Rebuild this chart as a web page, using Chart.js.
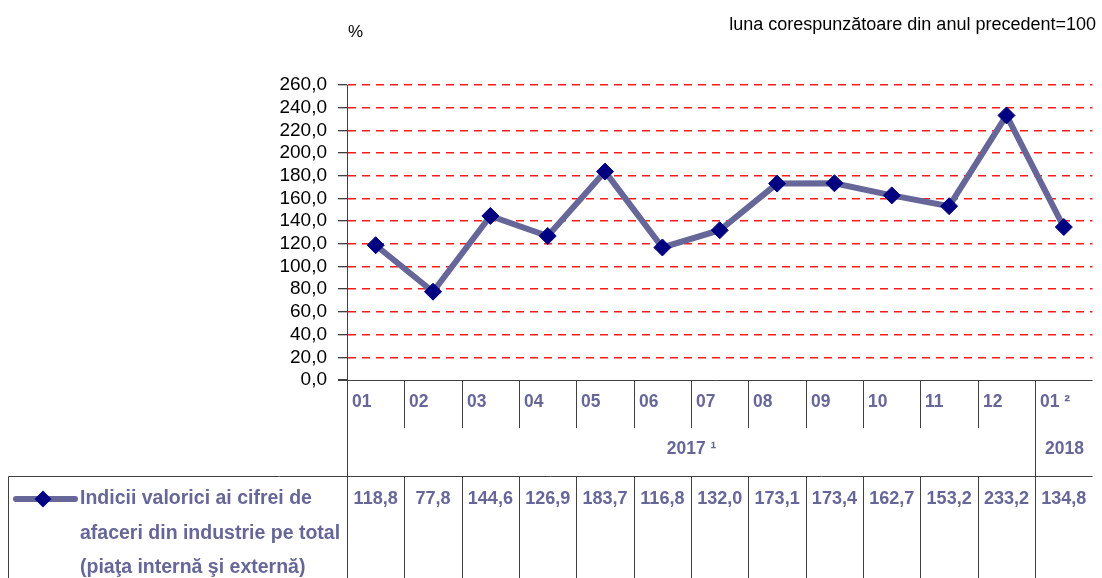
<!DOCTYPE html>
<html>
<head>
<meta charset="utf-8">
<script src="https://cdn.jsdelivr.net/npm/chart.js@4.4.1/dist/chart.umd.min.js"></script>
<style>
  html, body { margin: 0; padding: 0; background: #fff; }
  #wrap { width: 1102px; height: 578px; position: relative; }
</style>
</head>
<body>
<div id="wrap"><canvas id="chart" width="1102" height="578"></canvas></div>
<script>
// luna corespunzatoare din anul precedent = 100
const months = ['01', '02', '03', '04', '05', '06', '07', '08', '09', '10', '11', '12', '01 \u00b2'];
const yearLabels = ['2017 \u00b9', '2018'];
const yearSpans = [12, 1];
const values = [118.8, 77.8, 144.6, 126.9, 183.7, 116.8, 132.0, 173.1, 173.4, 162.7, 153.2, 233.2, 134.8];
const seriesLabel = ['Indicii valorici ai cifrei de', 'afaceri din industrie pe total', '(pia\u0163a intern\u0103 \u015fi extern\u0103)'];
const yMin = 0;
const yMax = 260;
const yStep = 20;
const unitLabel = '%';
const baseLabel = 'luna corespunz\u0103toare din anul precedent=100';

const lineColour = '#666699';
const markColour = '#000080';
const textColour = '#666699';
const tableColour = '#404040';
const gridColour = '#ff1a1a';
const fontName = "'Liberation Sans', Arial, sans-serif";

function fmt(v) {
    return v.toFixed(1).replace('.', ',');
}

function txt(ctx, s, x, y, font, color, align, k) {
    ctx.save();
    ctx.font = font;
    ctx.fillStyle = color;
    ctx.textAlign = align;
    ctx.textBaseline = 'middle';
    ctx.translate(x, y);
    ctx.scale(k || 1, 1);
    ctx.fillText(s, 0, 0);
    ctx.restore();
}

function line(ctx, x1, y1, x2, y2) {
    ctx.beginPath();
    ctx.moveTo(x1, y1);
    ctx.lineTo(x2, y2);
    ctx.stroke();
}

// table under the chart: months, years, values and the legend
const tablePlugin = {
    id: 'table',
    afterDraw(chart) {
        const ctx = chart.ctx;
        const xs = chart.scales.x;
        const area = chart.chartArea;
        const half = (xs.getPixelForValue(1) - xs.getPixelForValue(0)) / 2;
        const edge = (i) => Math.round(xs.getPixelForValue(i) - half) + 0.5;
        const yAxis = Math.round(area.bottom) + 0.5;
        const rowMonth = 428;
        const rowYear = 476.5;
        const bottom = 578;

        ctx.save();
        ctx.strokeStyle = tableColour;
        ctx.lineWidth = 1;
        // x axis / top of the table
        line(ctx, area.left - 9, yAxis, area.right, yAxis);
        // left axis goes all the way down
        line(ctx, edge(0), area.top, edge(0), bottom);
        // month separators
        let yearEnds = [];
        let acc = 0;
        yearSpans.forEach((n) => { acc += n; yearEnds.push(acc); });
        for (let i = 1; i < months.length; i++) {
            const full = yearEnds.indexOf(i) >= 0;
            line(ctx, edge(i), yAxis, edge(i), full ? bottom : rowMonth);
            line(ctx, edge(i), rowYear, edge(i), bottom);
        }
        // data row
        line(ctx, 8.5, rowYear, area.right, rowYear);
        line(ctx, 8.5, rowYear, 8.5, bottom);
        ctx.restore();

        months.forEach((m, i) => {
            txt(ctx, m, edge(i) + 4.5, 402, 'bold 18px ' + fontName, textColour, 'left', 0.97);
        });

        let start = 0;
        yearLabels.forEach((lab, j) => {
            const x0 = edge(start);
            const x1 = edge(start + yearSpans[j]);
            txt(ctx, lab, (x0 + x1) / 2, 449, 'bold 18px ' + fontName, textColour, 'center', 0.97);
            start += yearSpans[j];
        });

        values.forEach((v, i) => {
            txt(ctx, fmt(v), xs.getPixelForValue(i), 499, 'bold 19px ' + fontName, textColour, 'center', 0.95);
        });

        // legend entry
        ctx.save();
        ctx.strokeStyle = lineColour;
        ctx.lineWidth = 6;
        ctx.lineCap = 'round';
        line(ctx, 16, 499, 75, 499);
        ctx.fillStyle = markColour;
        ctx.beginPath();
        ctx.moveTo(43 - 8.5, 499);
        ctx.lineTo(43, 499 - 8.5);
        ctx.lineTo(43 + 8.5, 499);
        ctx.lineTo(43, 499 + 8.5);
        ctx.closePath();
        ctx.fill();
        ctx.restore();
        seriesLabel.forEach((s, i) => {
            txt(ctx, s, 80, 499 + i * 34.5, 'bold 19.5px ' + fontName, textColour, 'left', 1);
        });

        // header texts
        txt(ctx, unitLabel, 348, 32, '17px ' + fontName, '#000', 'left', 1);
        txt(ctx, baseLabel, 1096, 25, '18px ' + fontName, '#000', 'right', 1);
    }
};

const ctx = document.getElementById('chart').getContext('2d');
const myChart = new Chart(ctx, {
    type: 'line',
    data: {
        labels: months,
        datasets: [{
            label: seriesLabel.join(' '),
            data: values,
            borderColor: lineColour,
            borderWidth: 6,
            tension: 0,
            pointStyle: 'rectRot',
            pointRadius: 8.5,
            pointBackgroundColor: markColour,
            pointBorderColor: markColour,
            pointBorderWidth: 1
        }]
    },
    options: {
        responsive: false,
        animation: false,
        events: [],
        layout: {
            padding: { left: 0, right: 0, top: 85, bottom: 198 }
        },
        scales: {
            x: {
                type: 'category',
                offset: true,
                display: false
            },
            y: {
                min: yMin,
                max: yMax,
                afterFit: (scale) => { scale.width = 347; },
                ticks: {
                    stepSize: yStep,
                    autoSkip: false,
                    padding: 11,
                    color: '#000',
                    font: { family: fontName, size: 19 },
                    callback: (v) => fmt(v)
                },
                grid: {
                    color: (c) => (c.tick && c.tick.value === yMin) ? 'rgba(0,0,0,0)' : gridColour,
                    lineWidth: 1.5,
                    tickColor: '#000',
                    tickWidth: 1,
                    tickLength: 9
                },
                border: {
                    display: true,
                    color: tableColour,
                    width: 1,
                    dash: [8, 6]
                }
            }
        },
        plugins: {
            legend: { display: false },
            tooltip: { enabled: false }
        }
    },
    plugins: [tablePlugin]
});
</script>
</body>
</html>
